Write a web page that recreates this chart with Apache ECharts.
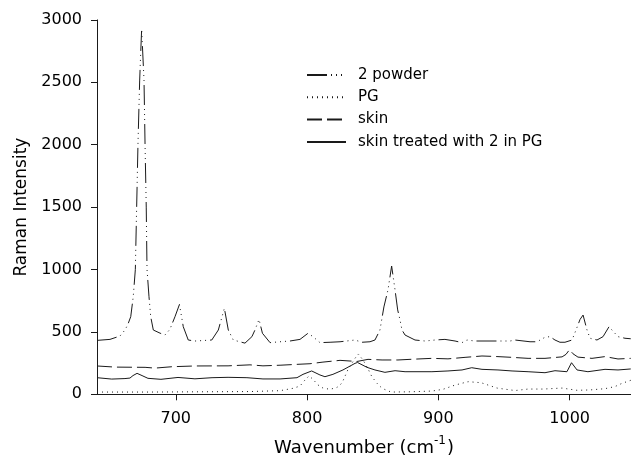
<!DOCTYPE html>
<html>
<head>
<meta charset="utf-8">
<script src="https://cdn.jsdelivr.net/npm/echarts@6/dist/echarts.min.js"></script>
<style>
html,body{margin:0;padding:0;background:#fff;}
#chart{width:631px;height:463px;}
</style>
</head>
<body>
<div id="chart"></div>
<script>
// ---- data ----
const seriesNames = ["2 powder", "PG", "skin", "skin treated with 2 in PG"];
const xTickValues = [700, 800, 900, 1000];
const yTickInterval = 500;

const powderX = [640, 649.9, 657.5, 661.3, 663.5, 665.7, 667.6, 669.2, 670.2, 671.2, 672.5, 674.0, 675.8, 676.6, 677.5, 678.1, 679.6, 680.9, 682.9, 688.0, 691.8, 695.5, 699.4, 702.8, 705.7, 709.5, 714.6, 727.4, 732.4, 737.0, 740.0, 743.8, 752.7, 758.0, 760.3, 763.4, 766.0, 771.8, 779.4, 787.0, 794.6, 800.7, 804.5, 809.8, 817.5, 825.1, 836.5, 841.8, 847.9, 851.7, 855.5, 858.5, 861.6, 864.4, 867.0, 869.0, 870.8, 872.3, 874.6, 882.2, 889.8, 897.4, 905.0, 912.7, 918.0, 921.8, 927.9, 939.3, 946.9, 954.6, 958.4, 969.8, 975.1, 981.2, 985.0, 988.8, 992.6, 996.4, 1001.8, 1004.8, 1007.9, 1010.2, 1013.2, 1015.5, 1020.8, 1025.4, 1030.0, 1032.2, 1036.8, 1042.1, 1046.5];
const powderY = [432, 440, 467, 515, 560, 622, 782, 1000, 1500, 2000, 2518, 2927, 2518, 2000, 1500, 1000, 782, 622, 515, 490, 475, 520, 622, 720, 542, 435, 427, 435, 515, 689, 515, 435, 410, 462, 515, 600, 489, 414, 421, 427, 440, 489, 462, 414, 417, 421, 435, 417, 421, 435, 515, 700, 836, 1028, 836, 676, 595, 515, 475, 435, 427, 435, 440, 427, 414, 435, 427, 427, 427, 427, 435, 421, 421, 457, 462, 435, 417, 417, 435, 515, 600, 635, 515, 449, 435, 462, 542, 515, 462, 449, 445];

const pgX = [640, 680.4, 718.4, 756.5, 779.4, 789.3, 794.6, 797.6, 801.5, 804.5, 808.3, 812.1, 817.5, 822.8, 826.6, 831.2, 836.5, 839.0, 842.6, 846.6, 849.4, 853.3, 857.1, 863.9, 878.4, 895.1, 903.5, 912.7, 922.6, 932.5, 944.6, 958.4, 968.3, 979.7, 994.2, 1005.6, 1015.5, 1026.9, 1034.5, 1039.9, 1046.5];
const pgY = [18, 18, 20, 22, 29, 48, 66, 105, 148, 120, 75, 50, 40, 55, 90, 200, 288, 323, 275, 200, 140, 88, 48, 18, 20, 26, 40, 74, 101, 93, 50, 30, 42, 42, 50, 32, 35, 45, 62, 88, 112];

const skinX = [640, 653.7, 676.6, 684.2, 697.1, 714.6, 739.8, 756.5, 766.4, 779.4, 792.3, 802.2, 812.1, 825.1, 838.0, 846.4, 857.1, 869.2, 882.2, 895.1, 907.3, 920.3, 933.2, 945.4, 956.1, 968.3, 981.2, 994.2, 997.2, 999.9, 1002.5, 1006.3, 1017.0, 1026.9, 1036.8, 1046.5];
const skinY = [227, 218, 216, 210, 221, 227, 228, 236, 228, 233, 240, 245, 258, 272, 263, 280, 275, 275, 282, 288, 284, 296, 307, 302, 296, 288, 288, 300, 320, 358, 325, 298, 288, 302, 283, 288];

const treatedX = [640, 651.2, 661.3, 665.1, 667.4, 670.5, 674.3, 678.8, 688.7, 701.7, 714.6, 727.6, 739.8, 754.2, 766.4, 779.4, 792.3, 796.9, 803.5, 809.8, 813.6, 819.7, 827.3, 836.5, 838.4, 845.6, 851.7, 859.3, 867.0, 874.6, 895.1, 907.3, 918.0, 925.4, 933.2, 945.4, 956.1, 968.3, 981.2, 988.8, 997.9, 1001.4, 1005.6, 1013.9, 1026.9, 1036.8, 1046.5];
const treatedY = [133, 122, 126, 130, 150, 168, 150, 128, 120, 135, 124, 133, 136, 133, 123, 123, 133, 160, 187, 155, 141, 160, 195, 248, 255, 216, 195, 176, 189, 181, 181, 187, 195, 213, 200, 195, 187, 181, 173, 189, 181, 253, 195, 181, 200, 195, 203];

// ---- chart ----
function zip(xs, ys) { return xs.map((x, i) => [x, ys[i]]); }
const ink = '#1a1a1a';
const font = 'DejaVu Sans';
const dashStyles = [[20, 4, 1, 4, 1, 4, 1, 4], [1, 4], [15, 5], 'solid'];
const seriesData = [zip(powderX, powderY), zip(pgX, pgY), zip(skinX, skinY), zip(treatedX, treatedY)];
const plain = v => String(v);

const chart = echarts.init(document.getElementById('chart'), null, {renderer: 'canvas'});
chart.setOption({
  animation: false,
  backgroundColor: '#fff',
  grid: {left: 97, top: 19.9, width: 534, height: 374.4, containLabel: false},
  legend: {
    orient: 'vertical', left: 306, top: 67.5, padding: 0,
    itemWidth: 39, itemHeight: 12, itemGap: 7.3,
    data: seriesNames,
    itemStyle: {opacity: 0},
    textStyle: {fontFamily: font, fontSize: 15, color: '#000', lineHeight: 15, padding: [0, 0, 0, 7]}
  },
  xAxis: {
    type: 'value', min: 640, max: 1046.7,
    name: '{a|Wavenumber (cm}{s|-1}{a|)}',
    nameLocation: 'middle', nameGap: 41,
    nameTextStyle: {
      rich: {
        a: {fontFamily: font, fontSize: 18, color: '#000', lineHeight: 22, verticalAlign: 'bottom'},
        s: {fontFamily: font, fontSize: 12, color: '#000', lineHeight: 22, verticalAlign: 'top', padding: [0, 1, 0, 0]}
      }
    },
    axisLine: {lineStyle: {color: ink, width: 1}},
    axisTick: {customValues: xTickValues, length: 6, lineStyle: {color: ink}},
    axisLabel: {customValues: xTickValues, formatter: plain, fontFamily: font, fontSize: 16, color: '#000', margin: 17},
    splitLine: {show: false}
  },
  yAxis: {
    type: 'value', min: 0, max: 3000, interval: yTickInterval,
    name: 'Raman Intensity', nameLocation: 'middle', nameGap: 60,
    nameTextStyle: {fontFamily: font, fontSize: 17, color: '#000'},
    axisLine: {show: true, lineStyle: {color: ink, width: 1}},
    axisTick: {show: true, length: 6, lineStyle: {color: ink}},
    axisLabel: {formatter: plain, fontFamily: font, fontSize: 16, color: '#000', margin: 15},
    splitLine: {show: false}
  },
  series: seriesNames.map((name, i) => ({
    name: name,
    type: 'line',
    data: seriesData[i],
    symbol: 'none',
    showSymbol: false,
    clip: true,
    lineStyle: {color: ink, width: 1, type: dashStyles[i]},
    itemStyle: {color: ink}
  }))
});
</script>
</body>
</html>
